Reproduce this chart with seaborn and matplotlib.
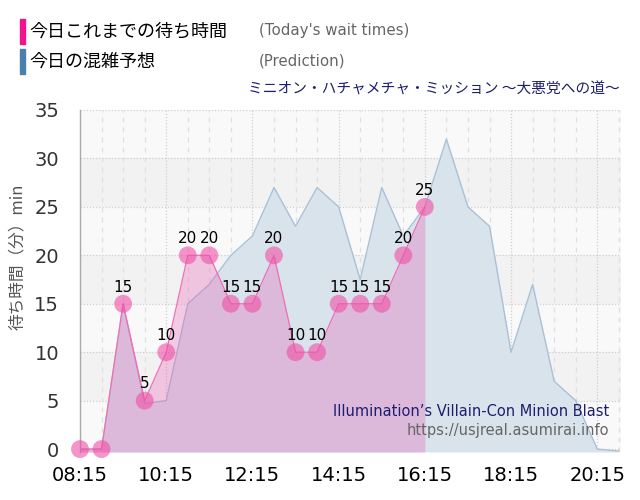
import matplotlib
matplotlib.use("Agg")
import matplotlib.pyplot as plt
import seaborn as sns
import pandas as pd
from matplotlib.patches import Rectangle

# 実績（30分ごと）
actual_times = ["08:15", "08:45", "09:15", "09:45", "10:15", "10:45", "11:15", "11:45",
                "12:15", "12:45", "13:15", "13:45", "14:15", "14:45", "15:15", "15:45", "16:15"]
actual_wait = [0, 0, 15, 5, 10, 20, 20, 15, 15, 20, 10, 10, 15, 15, 15, 20, 25]

# 予想（30分ごと）
pred_times = ["08:15", "08:45", "09:15", "09:45", "10:15", "10:45", "11:15", "11:45",
              "12:15", "12:45", "13:15", "13:45", "14:15", "14:45", "15:15", "15:45",
              "16:15", "16:45", "17:15", "17:45", "18:15", "18:45", "19:15", "19:45",
              "20:15", "20:45"]
pred_wait = [0, 0, 15, 4.7, 5, 15, 17, 20, 22, 27, 23, 27, 25, 17.5, 27, 22,
             25, 32, 25, 23, 10, 17, 7, 5, 0, -0.2]

tick_labels = ["08:15", "10:15", "12:15", "14:15", "16:15", "18:15", "20:15"]


def to_min(t):
    h, m = t.split(":")
    return int(h) * 60 + int(m)


df_act = pd.DataFrame({"t": [to_min(t) for t in actual_times], "wait": actual_wait})
df_pred = pd.DataFrame({"t": [to_min(t) for t in pred_times], "wait": pred_wait})

sns.set_style("white")
plt.rcParams['font.family'] = ['DejaVu Sans', 'Noto Sans CJK JP']

fig = plt.figure(figsize=(6.4, 5.0), dpi=100)
ax = fig.add_axes([80 / 640, 1 - 452 / 500, (621 - 80) / 640, (452 - 110) / 500])

# 背景の帯
for i, lo in enumerate(range(0, 35, 5)):
    ax.axhspan(lo, lo + 5, color='#f9f9f9' if i % 2 == 0 else '#f2f2f2', zorder=0, lw=0)
ax.axhspan(-0.5, 0, color='#f9f9f9', zorder=0, lw=0)

# グリッド
for y in range(0, 40, 5):
    ax.axhline(y, color='#cfcfcf', lw=0.9, ls=(0, (1, 1.5)), zorder=1)
for t in df_pred["t"]:
    if t in [to_min(s) for s in tick_labels]:
        ax.axvline(t, color='#cfcfcf', lw=0.9, ls=(0, (1, 1.5)), zorder=1)
    else:
        ax.axvline(t, color='#e0e0e0', lw=0.9, ls=(0, (4, 4)), zorder=1)

# 予想
ax.fill_between(df_pred["t"], df_pred["wait"], -0.3, color='#d9e3eb', zorder=2, lw=0)
sns.lineplot(data=df_pred, x="t", y="wait", color='#a9c1d6', lw=1, ax=ax, zorder=3)

# 実績
ax.fill_between(df_act["t"], df_act["wait"], -0.3, color=(230 / 255, 90 / 255, 180 / 255),
                alpha=0.3, zorder=4, lw=0)
sns.lineplot(data=df_act, x="t", y="wait", color='#f06eb4', lw=0.9, ax=ax, zorder=5)
sns.scatterplot(data=df_act, x="t", y="wait", color='#ef4fa6', s=165, alpha=0.6,
                edgecolor='none', ax=ax, zorder=6, clip_on=False)

for t, w in zip(df_act["t"], df_act["wait"]):
    if w > 0:
        ax.annotate(str(w), (t, w), xytext=(0, 12), textcoords='offset points',
                    ha='center', va='center', fontsize=11, color='black', zorder=7)

ax.set_xlim(to_min("08:15"), to_min("20:48"))
ax.set_ylim(-0.3, 35)
ax.set_xticks([to_min(s) for s in tick_labels])
ax.set_xticklabels(tick_labels, fontsize=14, color='black')
ax.set_yticks(range(0, 40, 5))
ax.set_yticklabels([str(v) for v in range(0, 40, 5)], fontsize=14, color='#333333')
ax.tick_params(axis='x', length=8, color='#dddddd', pad=2)
ax.tick_params(axis='y', length=11, color='#dddddd', pad=4)
ax.set_xlabel("")
ax.set_ylabel("")
for s in ["top", "right", "bottom"]:
    ax.spines[s].set_visible(False)
ax.spines["left"].set_color('#aaaaaa')
ax.spines["left"].set_linewidth(1)

# 軸ラベル
fig.text(17 / 640, 1 - 257 / 500, "待ち時間（分）min", rotation=90, ha='center', va='center',
         fontsize=12, color='#555555', family=['Noto Sans CJK JP', 'DejaVu Sans'])

# 凡例
fig.patches.append(Rectangle((20 / 640, 1 - 43.5 / 500), 5 / 640, 24 / 500,
                             transform=fig.transFigure, color='#f0148c'))
fig.patches.append(Rectangle((20 / 640, 1 - 73.5 / 500), 5 / 640, 24 / 500,
                             transform=fig.transFigure, color='#4a80b0'))
fig.text(29 / 640, 1 - 31.5 / 500, "今日これまでの待ち時間", ha='left', va='center', fontsize=13,
         color='black', family=['Noto Sans CJK JP'])
fig.text(29 / 640, 1 - 61.5 / 500, "今日の混雑予想", ha='left', va='center', fontsize=13,
         color='black', family=['Noto Sans CJK JP'])
fig.text(259 / 640, 1 - 31 / 500, "(Today's wait times)", ha='left', va='center',
         fontsize=10.8, color='#666666')
fig.text(259 / 640, 1 - 61 / 500, "(Prediction)", ha='left', va='center',
         fontsize=10.8, color='#666666')

# タイトル
fig.text(620 / 640, 1 - 90 / 500, "ミニオン・ハチャメチャ・ミッション ～大悪党への道～", ha='right',
         va='center', fontsize=10.6, color='#1e1e6e', family=['Noto Sans CJK JP', 'DejaVu Sans'])

# クレジット
fig.text(609 / 640, 1 - 411 / 500, "Illumination’s Villain-Con Minion Blast", ha='right',
         va='center', fontsize=10.5, color='#1e1e6e')
fig.text(609 / 640, 1 - 431 / 500, "https://usjreal.asumirai.info", ha='right',
         va='center', fontsize=10.5, color='#666666')

fig.savefig("out.png", dpi=100)
